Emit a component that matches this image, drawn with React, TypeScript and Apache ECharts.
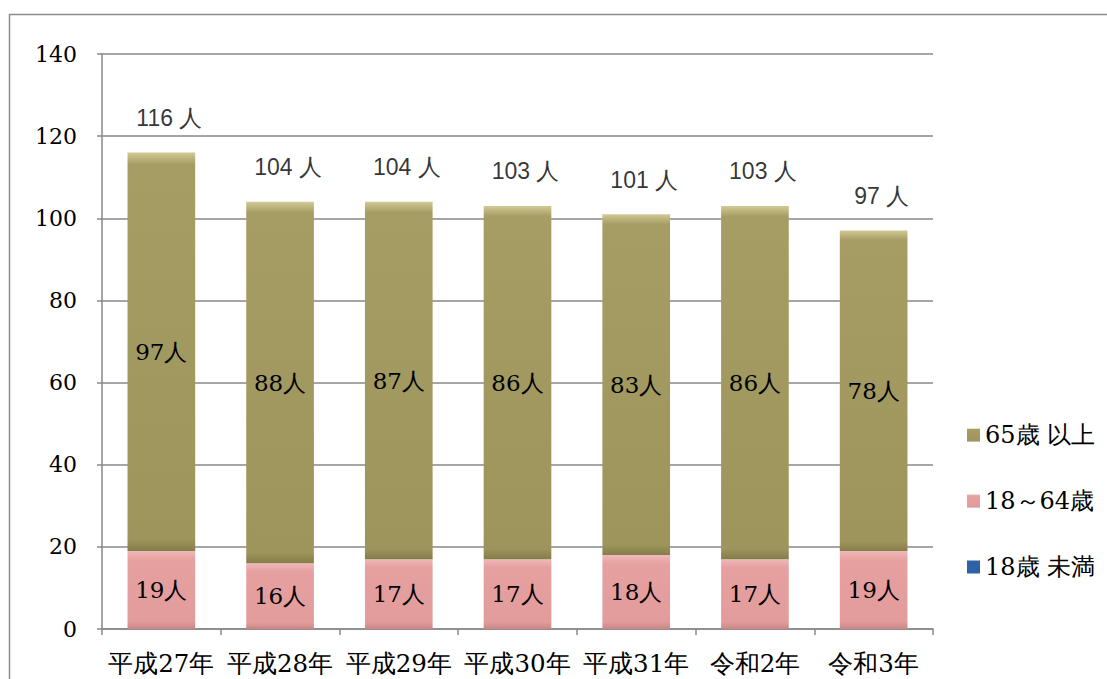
import React, { useEffect, useRef } from "react";
import * as echarts from "echarts";

const categories = ["平成27年", "平成28年", "平成29年", "平成30年", "平成31年", "令和2年", "令和3年"];
const under18 = [0, 0, 0, 0, 0, 0, 0];
const age18to64 = [19, 16, 17, 17, 18, 17, 19];
const age65plus = [97, 88, 87, 86, 83, 86, 78];
const seriesNames = ["18歳 未満", "18～64歳", "65歳 以上"];
const yTicks = { min: 0, max: 140, interval: 20 };

const SERIF = "DejaVu Serif";
const GOTHIC = "Liberation Sans";

export default function App() {
  const ref = useRef<HTMLDivElement>(null);
  useEffect(() => {
    document.body.style.margin = "0";
    if (!ref.current) return;
    const chart = echarts.init(ref.current, undefined, { renderer: "svg" });
    const totals = categories.map((_, i) => under18[i] + age18to64[i] + age65plus[i]);
    const segLabel = {
      show: true,
      position: "inside",
      fontFamily: SERIF,
      fontSize: 23,
      color: "#000",
      formatter: (p: any) => (p.value > 0 ? `${p.value}人` : ""),
    };
    chart.setOption({
      animation: false,
      backgroundColor: "#fff",
      graphic: [
        {
          type: "rect",
          left: 7,
          top: 12,
          shape: { width: 1110, height: 700 },
          style: { fill: "none", stroke: "#8c8c8c", lineWidth: 1.5 },
          silent: true,
        },
      ],
      grid: { left: 102, right: 174, top: 54, bottom: 50 },
      legend: {
        orient: "vertical",
        left: 962,
        top: 418,
        data: [seriesNames[2], seriesNames[1], seriesNames[0]],
        itemWidth: 13,
        itemHeight: 13,
        itemGap: 42,
        icon: "rect",
        textStyle: { fontFamily: SERIF, fontSize: 24, color: "#000" },
      },
      xAxis: {
        type: "category",
        data: categories,
        axisLine: { lineStyle: { color: "#888", width: 1.5 } },
        axisTick: { show: true, length: 6, lineStyle: { color: "#888", width: 1.5 } },
        axisLabel: { fontFamily: SERIF, fontSize: 24.5, color: "#000", margin: 22, interval: 0 },
      },
      yAxis: {
        type: "value",
        min: yTicks.min,
        max: yTicks.max,
        interval: yTicks.interval,
        axisLine: { show: true, lineStyle: { color: "#888", width: 1.5 } },
        axisTick: { show: true, length: 5, lineStyle: { color: "#888", width: 1.5 } },
        splitLine: { lineStyle: { color: "#888", width: 1.5 } },
        axisLabel: { fontFamily: SERIF, fontSize: 22, color: "#000", margin: 25 },
      },
      series: [
        {
          name: seriesNames[0],
          type: "bar",
          stack: "total",
          barWidth: "57%",
          data: under18,
          itemStyle: { color: "#2f62a4" },
          label: segLabel,
        },
        {
          name: seriesNames[1],
          type: "bar",
          stack: "total",
          barWidth: "57%",
          data: age18to64,
          itemStyle: {
            color: {
              type: "linear", x: 0, y: 0, x2: 0, y2: 1,
              colorStops: [
                { offset: 0, color: "#f0b8b8" },
                { offset: 0.12, color: "#e6a0a0" },
                { offset: 0.9, color: "#e39c9c" },
                { offset: 1, color: "#c98686" },
              ],
            },
          },
          label: segLabel,
        },
        {
          name: seriesNames[2],
          type: "bar",
          stack: "total",
          barWidth: "57%",
          data: age65plus,
          itemStyle: {
            color: {
              type: "linear", x: 0, y: 0, x2: 0, y2: 1,
              colorStops: [
                { offset: 0, color: "#d2c994" },
                { offset: 0.03, color: "#a59d64" },
                { offset: 0.97, color: "#9d955c" },
                { offset: 1, color: "#857d48" },
              ],
            },
          },
          label: segLabel,
        },
        {
          name: "total",
          type: "scatter",
          data: totals,
          symbolSize: 0,
          silent: true,
          label: {
            show: true,
            position: "top",
            distance: 23,
            offset: [8, 0],
            fontFamily: GOTHIC,
            fontSize: 23,
            color: "#000",
            formatter: (p: any) => `${p.value} 人`,
          },
        },
      ],
    });
    return () => chart.dispose();
  }, []);
  return <div ref={ref} style={{ width: 1107, height: 679 }} />;
}
